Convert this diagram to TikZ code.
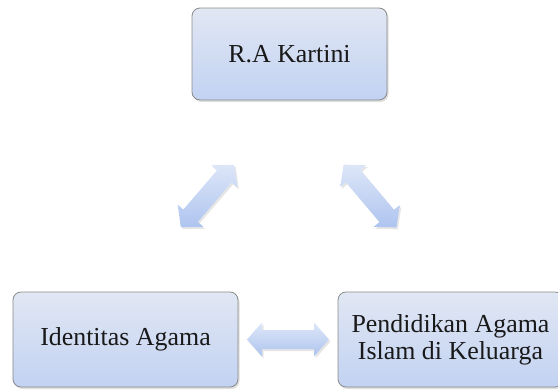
\documentclass[tikz,border=0pt]{standalone}
\usepackage{fontspec}
\setmainfont{Liberation Serif}
\usetikzlibrary{shadows}
\definecolor{kotakatas}{HTML}{E1E7F3}
\definecolor{kotakbawah}{HTML}{C2D2F2}
\definecolor{garis}{HTML}{8A8A8A}
\definecolor{panahatas}{HTML}{DDE6F8}
\definecolor{panahbawah}{HTML}{AEC4EF}

\begin{document}
\begin{tikzpicture}[x=1bp,y=-1bp,
  kotak/.style={draw=garis, line width=0.8bp, rounded corners=8bp,
    top color=kotakatas, bottom color=kotakbawah, text=black!90,
    align=center, font=\fontsize{26}{27}\selectfont,
    drop shadow={opacity=0.25, shadow xshift=1.5bp, shadow yshift=-2bp}},
  panah/.pic={
    \shade[top color=panahatas, bottom color=panahbawah,
      drop shadow={opacity=0.2, shadow xshift=1.5bp, shadow yshift=-2bp}]
      (-41,0) -- (-26,-17) -- (-26,-9.5) -- (26,-9.5) -- (26,-17) -- (41,0)
      -- (26,17) -- (26,9.5) -- (-26,9.5) -- (-26,17) -- cycle;
  }]

\useasboundingbox (0,0) rectangle (558,389);

\node[kotak, minimum width=195bp, minimum height=92bp] (kartini) at (289.5,54) {R.A Kartini};
\node[kotak, minimum width=225bp, minimum height=95bp] (identitas) at (125.5,339.5) {Identitas Agama};
\node[kotak, minimum width=225bp, minimum height=95bp] (pendidikan) at (450.5,339.5) {Pendidikan Agama\\Islam di Keluarga};

\path (identitas.north) -- (kartini.south) pic[midway, sloped] {panah};
\path (kartini.south) -- (pendidikan.north) pic[midway, sloped] {panah};
\path (identitas.east) -- (pendidikan.west) pic[midway] {panah};

\end{tikzpicture}
\end{document}
